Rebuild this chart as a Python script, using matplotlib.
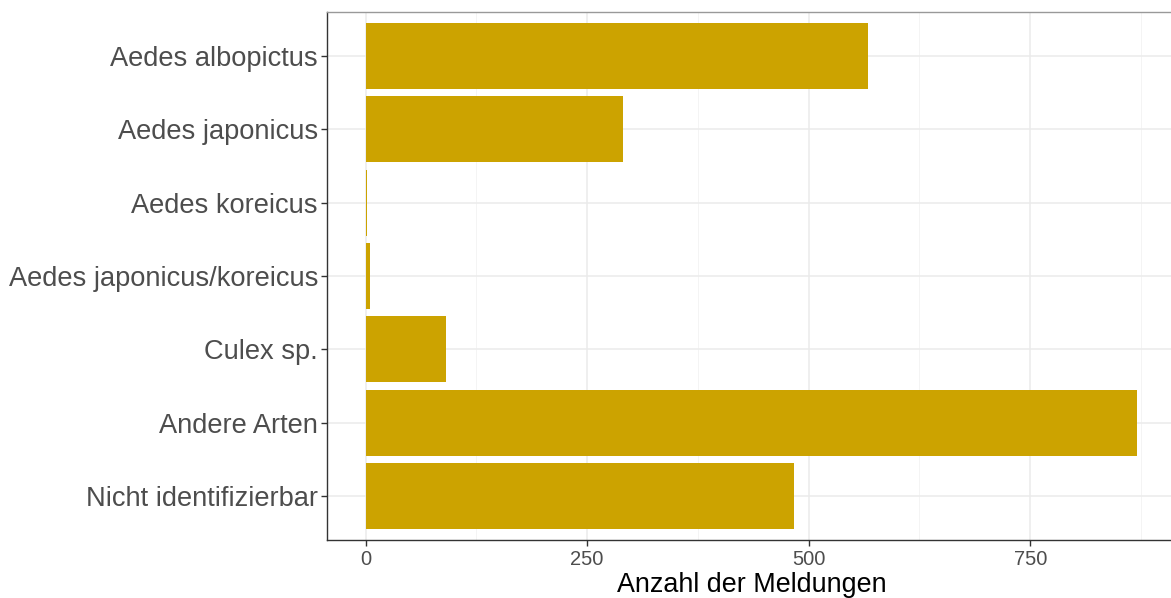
import numpy as np
import matplotlib.pyplot as plt
from matplotlib.ticker import MultipleLocator

plt.rcParams['font.family'] = ['Liberation Sans', 'DejaVu Sans']

# Data
arten = ['Aedes albopictus', 'Aedes japonicus', 'Aedes koreicus',
         'Aedes japonicus/koreicus', 'Culex sp.', 'Andere Arten',
         'Nicht identifizierbar']
meldungen = [567, 290, 2, 5, 91, 871, 483]

fig = plt.figure(figsize=(11.71, 5.98), dpi=100)
W, H = 1171, 598
# panel from x=327..1176 px, y=12..540 px (right edge cropped, as in the reference)
ax = fig.add_axes([327 / W, (H - 540) / H, (1176 - 327) / W, (540 - 12) / H])

y = np.arange(len(arten))
ax.barh(y, meldungen, height=0.9, color='#CCA300', zorder=2)

xmax = max(meldungen)
ax.set_xlim(-0.05 * xmax, 1.05 * xmax)
ax.set_ylim(len(arten) - 1 + 0.6, -0.6)

ax.set_yticks(y)
ax.set_yticklabels(arten)
ax.xaxis.set_major_locator(MultipleLocator(250))
ax.xaxis.set_minor_locator(MultipleLocator(125))

ax.grid(which='major', color='#EBEBEB', linewidth=1.1, zorder=0)
ax.grid(which='minor', axis='x', color='#F2F2F2', linewidth=0.6, zorder=0)
ax.set_axisbelow(True)

for s in ax.spines.values():
    s.set_color('#333333')
    s.set_linewidth(1.0)
ax.spines['top'].set_color('#999999')

ax.tick_params(axis='y', which='major', labelsize=19.6, labelcolor='#4D4D4D',
               color='#333333', length=4.5, width=1.0, pad=2)
ax.tick_params(axis='x', which='major', labelsize=14.5, labelcolor='#4D4D4D',
               color='#333333', length=4.5, width=1.0, pad=3)
ax.tick_params(axis='x', which='minor', length=0)

ax.set_xlabel('Anzahl der Meldungen', fontsize=19.4, color='black', labelpad=2)

fig.savefig('out.png', dpi=100)
